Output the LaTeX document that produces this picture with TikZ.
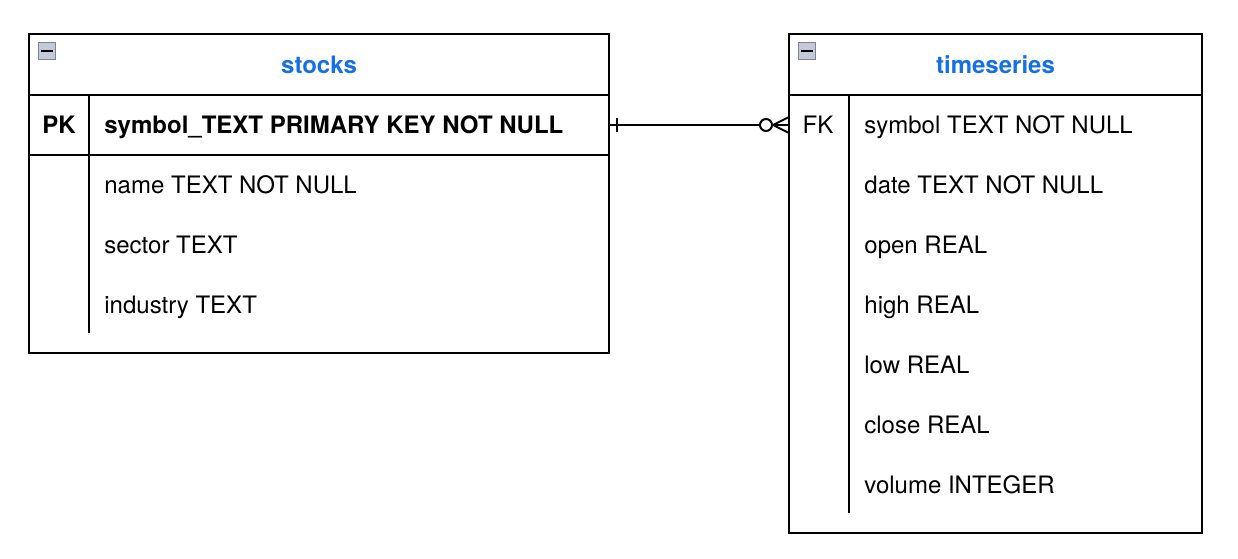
\documentclass[tikz,border=0pt]{standalone}
\usepackage{fontspec}
\setmainfont{TeX Gyre Heros}
\usetikzlibrary{calc,positioning}
\definecolor{Title}{HTML}{1570E6}
\definecolor{IconFill}{HTML}{C3C9D6}
\definecolor{IconLine}{HTML}{7D8594}
\tikzset{
  frame/.style={draw=black,fill=white,line width=1pt,inner sep=0pt,outer sep=0pt},
  head/.style={draw=black,line width=1pt,minimum height=30.5pt,inner sep=0pt,outer sep=0pt,text height=8.6pt,text depth=0pt,font=\fontsize{12}{14}\selectfont\bfseries\color{Title}},
  keyrow/.style={draw=black,line width=1pt,minimum height=30pt,inner sep=0pt,outer sep=0pt},
  field/.style={anchor=west,inner sep=0pt,text height=8.6pt,text depth=0pt},
  keytag/.style={inner sep=0pt,text height=8.6pt,text depth=0pt},
  icon/.style={draw=IconLine,fill=IconFill,line width=.5pt,minimum size=8.5pt,inner sep=0pt},
  sep/.style={draw=black,line width=1pt},
  rel/.style={draw=black,line width=1pt}
}
\begin{document}
\begin{tikzpicture}[x=1pt,y=1pt,font=\fontsize{12}{14}\selectfont]
  \fill[white] (0,0) rectangle (619,279);
  \useasboundingbox (0,0) rectangle (619,279);
  % stocks
  \node[frame,minimum width=290pt,minimum height=159.5pt,anchor=north west] (stocks) at (14.5,262) {};
  \node[head,minimum width=290pt,anchor=north west] (stocksHead) at (14.5,262) {stocks};
  \node[keyrow,minimum width=290pt,anchor=north west] (stocksPK) at (stocksHead.south west) {};
  \node[icon] (stocksIcon) at (23.5,253.5) {};
  \draw[line width=1pt] ($(stocksIcon.west)+(1.6,0)$) -- ($(stocksIcon.east)+(-1.6,0)$);
  \draw[sep] (44.5,231.5) -- (44.5,112.5);
  \node[keytag] (pkTag) at (29.5,216.5) {\bfseries PK};
  \node[field] (symbolPK) at (52,216.5) {\bfseries symbol\_TEXT PRIMARY KEY NOT NULL};
  \node[field] (name) at (52,186.5) {name TEXT NOT NULL};
  \node[field] (sector) at (52,156.5) {sector TEXT};
  \node[field] (industry) at (52,126.5) {industry TEXT};
  % timeseries
  \node[frame,minimum width=206.5pt,minimum height=249.5pt,anchor=north west] (timeseries) at (394.5,262) {};
  \node[head,minimum width=206.5pt,anchor=north west] (tsHead) at (394.5,262) {timeseries};
  \node[minimum width=206.5pt,minimum height=30pt,inner sep=0pt,outer sep=0pt,anchor=north west] (tsFK) at (tsHead.south west) {};
  \node[icon] (tsIcon) at (403.5,253.5) {};
  \draw[line width=1pt] ($(tsIcon.west)+(1.6,0)$) -- ($(tsIcon.east)+(-1.6,0)$);
  \draw[sep] (424.5,231.5) -- (424.5,22.5);
  \node[keytag] (fkTag) at (409,216.5) {FK};
  \node[field] (symbolFK) at (432,216.5) {symbol TEXT NOT NULL};
  \node[field] (date) at (432,186.5) {date TEXT NOT NULL};
  \node[field] (open) at (432,156.5) {open REAL};
  \node[field] (high) at (432,126.5) {high REAL};
  \node[field] (low) at (432,96.5) {low REAL};
  \node[field] (close) at (432,66.5) {close REAL};
  \node[field] (volume) at (432,36.5) {volume INTEGER};
  % one to zero-or-many
  \draw[rel] (stocksPK.east) -- (tsFK.west);
  \draw[rel] ($(stocksPK.east)+(4,3.5)$) -- ++(0,-7);
  \draw[rel] ($(tsFK.west)+(0,4)$) -- ($(tsFK.west)+(-8,0)$) -- ($(tsFK.west)+(0,-4)$);
  \draw[rel,fill=white] ($(tsFK.west)+(-11.5,0)$) circle (3pt);
\end{tikzpicture}
\end{document}
